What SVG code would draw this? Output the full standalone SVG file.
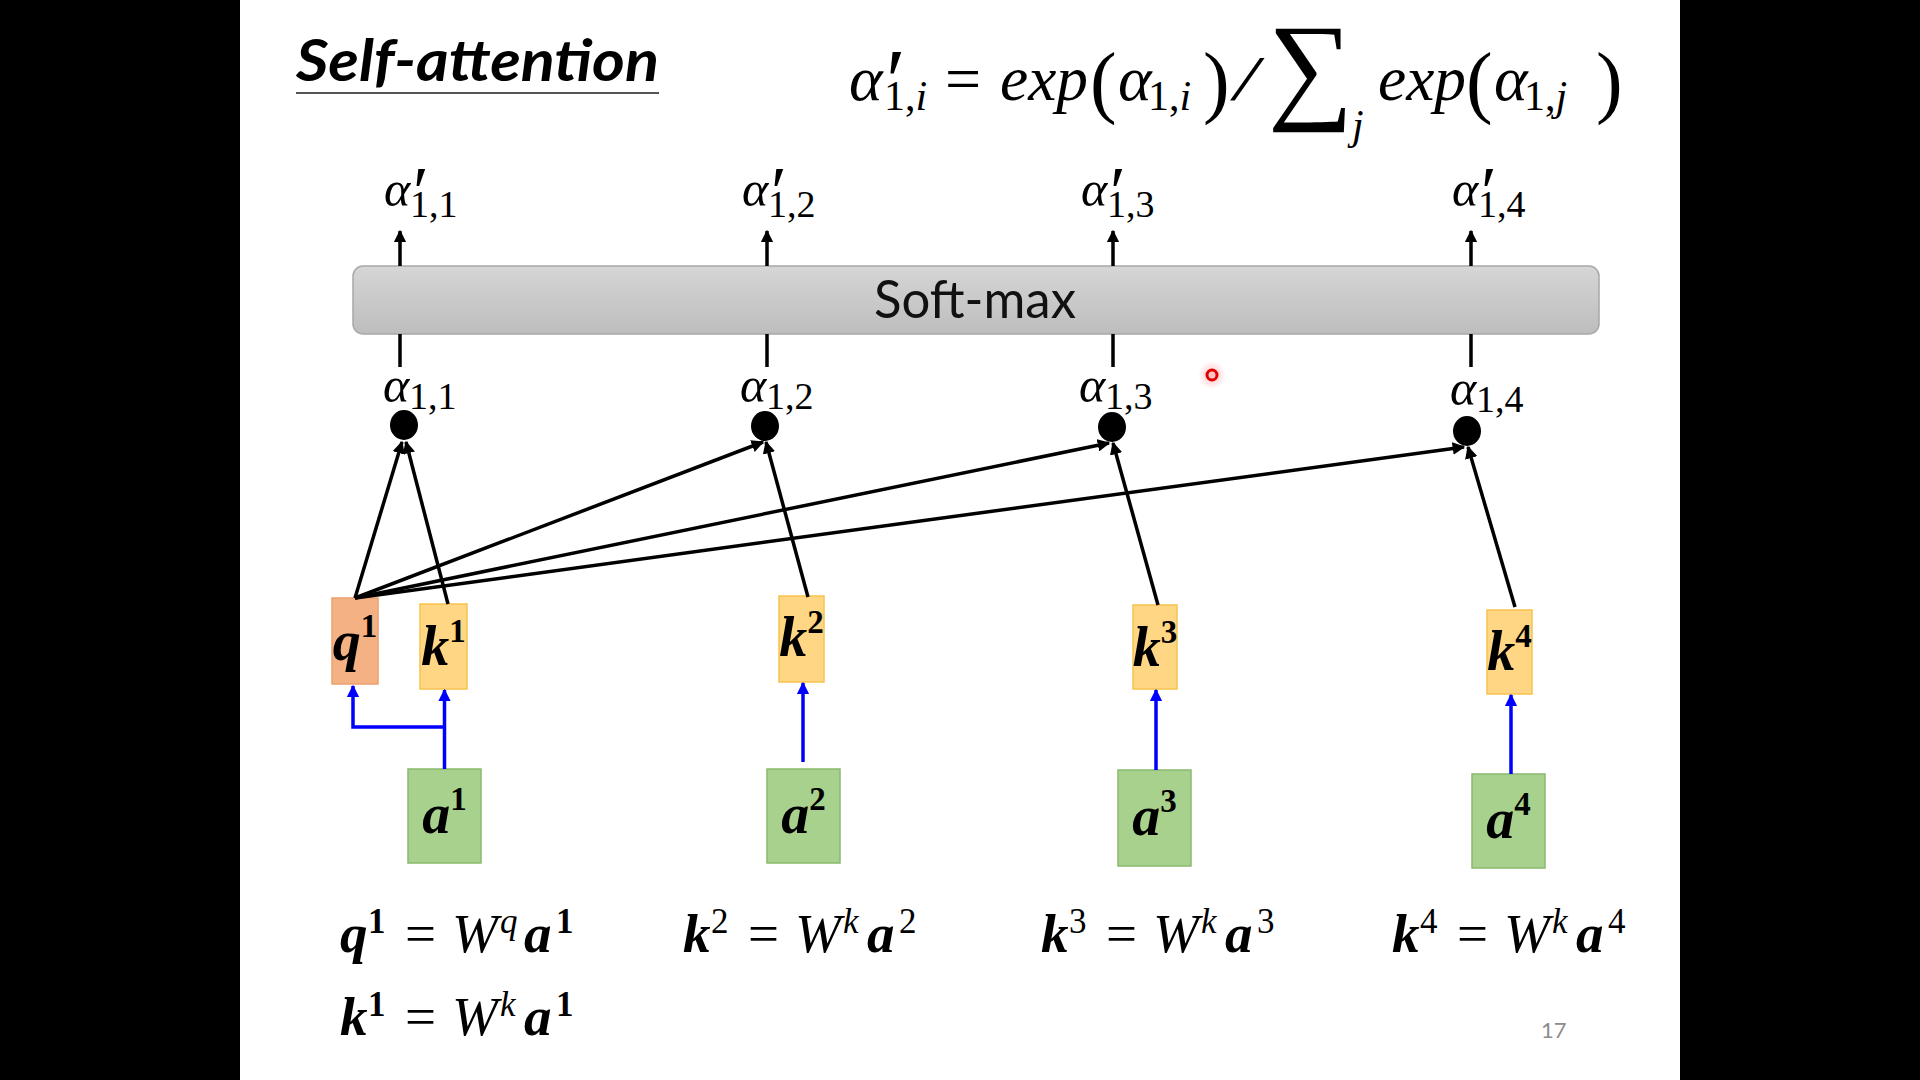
<svg xmlns="http://www.w3.org/2000/svg" width="1920" height="1080" viewBox="0 0 1920 1080">
<defs>
<style>
.m{font-family:"Liberation Serif","DejaVu Serif",serif;font-style:italic;fill:#000}
.bi{font-family:"Liberation Serif","DejaVu Serif",serif;font-style:italic;font-weight:bold;fill:#000}
.up{font-family:"Liberation Serif","DejaVu Serif",serif;font-style:normal;fill:#000}
.ub{font-family:"Liberation Serif","DejaVu Serif",serif;font-style:normal;font-weight:bold;fill:#000}
.lbl{font-size:56px;text-anchor:middle}
.eq{font-size:55px}
.sup{font-size:35px}
.al{font-size:50px}
.sub{font-size:38px}
.pr{font-size:72px}
.blk{stroke:#000;stroke-width:3.5;fill:none}
.blu{stroke:#0000ff;stroke-width:3.5;fill:none}
.qbox{fill:#f4b183;stroke:#eda070;stroke-width:1.5}
.kbox{fill:#ffd683;stroke:#f7c24e;stroke-width:1.5}
.abox{fill:#a9d18e;stroke:#8ab96d;stroke-width:1.5}
.dot{fill:#000}
</style>
<linearGradient id="gbar" x1="0" y1="0" x2="0" y2="1">
<stop offset="0" stop-color="#d6d6d6"/>
<stop offset="1" stop-color="#bdbdbd"/>
</linearGradient>
<radialGradient id="glow">
<stop offset="0" stop-color="#ff4040" stop-opacity="0.35"/>
<stop offset="1" stop-color="#ff4040" stop-opacity="0"/>
</radialGradient>
<marker id="ab" viewBox="0 0 10 10" refX="9" refY="5" markerWidth="3.6" markerHeight="3.6" orient="auto" markerUnits="strokeWidth">
<path d="M0,0 L10,5 L0,10 z" fill="#000"/>
</marker>
<marker id="au" viewBox="0 0 10 10" refX="9" refY="5" markerWidth="3.5" markerHeight="3.5" orient="auto" markerUnits="strokeWidth">
<path d="M0,0 L10,5 L0,10 z" fill="#0000ff"/>
</marker>
</defs>

<rect x="0" y="0" width="1920" height="1080" fill="#000"/>
<rect x="240" y="0" width="1440" height="1080" fill="#fff"/>

<g id="title">
<text x="296" y="81" font-family="Lato,'Liberation Sans',sans-serif" font-weight="bold" font-style="italic" font-size="58" textLength="363" lengthAdjust="spacingAndGlyphs">Self-attention</text>
<line x1="296" y1="93" x2="659" y2="93" stroke="#555" stroke-width="2"/>
</g>

<g id="formula">
<text class="m" font-size="64" x="849" y="100">α</text>
<text class="up" font-size="90" x="886" y="112">′</text>
<text class="up" font-size="42" x="884" y="110">1,<tspan class="m">i</tspan></text>
<text class="up" font-size="64" x="945" y="100">=</text>
<text class="m" font-size="64" x="1000" y="100" textLength="88" lengthAdjust="spacingAndGlyphs">exp</text>
<text class="up" font-size="80" x="1090" y="108">(</text>
<text class="m" font-size="64" x="1118" y="100">α</text>
<text class="up" font-size="42" x="1148" y="110">1,<tspan class="m">i</tspan></text>
<text class="up" font-size="80" x="1203" y="108">)</text>
<text class="m" font-size="64" x="1234" y="100" textLength="24" lengthAdjust="spacingAndGlyphs">/</text>
<text class="up" font-size="120" x="1268" y="107">∑</text>
<text class="m" font-size="42" x="1352" y="139">j</text>
<text class="m" font-size="64" x="1378" y="100" textLength="88" lengthAdjust="spacingAndGlyphs">exp</text>
<text class="up" font-size="80" x="1466" y="108">(</text>
<text class="m" font-size="64" x="1494" y="100">α</text>
<text class="up" font-size="42" x="1524" y="110">1,<tspan class="m">j</tspan></text>
<text class="up" font-size="80" x="1596" y="108">)</text>
</g>

<g id="softmax">
<rect x="353" y="266" width="1246" height="68" rx="10" fill="url(#gbar)" stroke="#a8a8a8" stroke-width="1.5"/>
<text x="975" y="318" font-family="Lato,'Liberation Sans',sans-serif" font-size="52" text-anchor="middle" textLength="202" lengthAdjust="spacingAndGlyphs" fill="#111">Soft-max</text>
</g>

<g id="out-labels">
<g id="ap11"><text class="m al" x="384" y="206">α</text><text class="up pr" x="413" y="216">′</text><text class="up sub" x="410" y="217">1,1</text></g>
<g id="ap12"><text class="m al" x="742" y="206">α</text><text class="up pr" x="771" y="216">′</text><text class="up sub" x="768" y="217">1,2</text></g>
<g id="ap13"><text class="m al" x="1081" y="206">α</text><text class="up pr" x="1110" y="216">′</text><text class="up sub" x="1107" y="217">1,3</text></g>
<g id="ap14"><text class="m al" x="1452" y="206">α</text><text class="up pr" x="1481" y="216">′</text><text class="up sub" x="1478" y="217">1,4</text></g>
</g>

<g id="alpha-labels">
<g id="a11"><text class="m al" x="383" y="402">α</text><text class="up sub" x="409" y="409">1,1</text></g>
<g id="a12"><text class="m al" x="740" y="402">α</text><text class="up sub" x="766" y="409">1,2</text></g>
<g id="a13"><text class="m al" x="1079" y="402">α</text><text class="up sub" x="1105" y="409">1,3</text></g>
<g id="a14"><text class="m al" x="1450" y="405">α</text><text class="up sub" x="1476" y="412">1,4</text></g>
</g>

<g id="dots">
<ellipse id="dot1" class="dot" cx="404" cy="425" rx="14" ry="15"/>
<ellipse id="dot2" class="dot" cx="765" cy="426" rx="14" ry="15"/>
<ellipse id="dot3" class="dot" cx="1112" cy="427" rx="14" ry="15"/>
<ellipse id="dot4" class="dot" cx="1467" cy="431" rx="14" ry="15"/>
</g>

<g id="q1"><rect class="qbox" x="332" y="598" width="46" height="86"/><text class="bi lbl" x="355" y="660">q<tspan class="ub" font-size="33" dy="-23">1</tspan></text></g>
<g id="k1"><rect class="kbox" x="420" y="604" width="47" height="85"/><text class="bi lbl" x="443.5" y="665">k<tspan class="ub" font-size="33" dy="-23">1</tspan></text></g>
<g id="k2"><rect class="kbox" x="779" y="596" width="45" height="86"/><text class="bi lbl" x="801.5" y="656">k<tspan class="up" font-size="33" dy="-23">2</tspan></text></g>
<g id="k3"><rect class="kbox" x="1133" y="605" width="44" height="84"/><text class="bi lbl" x="1155" y="666">k<tspan class="up" font-size="33" dy="-23">3</tspan></text></g>
<g id="k4"><rect class="kbox" x="1487" y="610" width="45" height="84"/><text class="bi lbl" x="1509.5" y="670">k<tspan class="up" font-size="33" dy="-23">4</tspan></text></g>

<g id="a1"><rect class="abox" x="408" y="769" width="73" height="94"/><text class="bi lbl" x="444.5" y="833">a<tspan class="ub" font-size="33" dy="-23">1</tspan></text></g>
<g id="a2"><rect class="abox" x="767" y="769" width="73" height="94"/><text class="bi lbl" x="803.5" y="833">a<tspan class="up" font-size="33" dy="-23">2</tspan></text></g>
<g id="a3"><rect class="abox" x="1118" y="770" width="73" height="96"/><text class="bi lbl" x="1154.5" y="835">a<tspan class="up" font-size="33" dy="-23">3</tspan></text></g>
<g id="a4"><rect class="abox" x="1472" y="774" width="73" height="94"/><text class="bi lbl" x="1508.5" y="838">a<tspan class="up" font-size="33" dy="-23">4</tspan></text></g>

<g id="connectors">
<line class="blk" x1="400" y1="266" x2="400" y2="231" marker-end="url(#ab)"/>
<line class="blk" x1="767" y1="266" x2="767" y2="231" marker-end="url(#ab)"/>
<line class="blk" x1="1113" y1="266" x2="1113" y2="231" marker-end="url(#ab)"/>
<line class="blk" x1="1471" y1="266" x2="1471" y2="231" marker-end="url(#ab)"/>
<line class="blk" x1="400" y1="334" x2="400" y2="367"/>
<line class="blk" x1="767" y1="334" x2="767" y2="367"/>
<line class="blk" x1="1113" y1="334" x2="1113" y2="367"/>
<line class="blk" x1="1471" y1="334" x2="1471" y2="367"/>
<line class="blk" x1="355" y1="598" x2="402" y2="442" marker-end="url(#ab)"/>
<line class="blk" x1="448" y1="604" x2="406" y2="442" marker-end="url(#ab)"/>
<line class="blk" x1="355" y1="598" x2="763" y2="442" marker-end="url(#ab)"/>
<line class="blk" x1="808" y1="597" x2="766" y2="442" marker-end="url(#ab)"/>
<line class="blk" x1="355" y1="598" x2="1109" y2="443" marker-end="url(#ab)"/>
<line class="blk" x1="1158" y1="605" x2="1113" y2="443" marker-end="url(#ab)"/>
<line class="blk" x1="355" y1="598" x2="1464" y2="447" marker-end="url(#ab)"/>
<line class="blk" x1="1515" y1="607" x2="1468" y2="447" marker-end="url(#ab)"/>
<line class="blu" x1="444.5" y1="769" x2="444.5" y2="690" marker-end="url(#au)"/>
<polyline class="blu" points="444.5,727 353,727 353,686" marker-end="url(#au)"/>
<line class="blu" x1="803" y1="762" x2="803" y2="683" marker-end="url(#au)"/>
<line class="blu" x1="1156" y1="770" x2="1156" y2="690" marker-end="url(#au)"/>
<line class="blu" x1="1511" y1="774" x2="1511" y2="695" marker-end="url(#au)"/>
</g>

<g id="equations">
<text class="eq"><tspan class="bi" x="340" y="952">q</tspan><tspan class="ub sup" x="368" y="933">1</tspan><tspan class="up" x="405" y="952">=</tspan><tspan class="m" x="452" y="952">W</tspan><tspan class="m sup" x="500" y="933">q</tspan><tspan class="bi" x="524" y="952">a</tspan><tspan class="ub sup" x="556" y="933">1</tspan></text>
<text class="eq"><tspan class="bi" x="340" y="1035">k</tspan><tspan class="ub sup" x="368" y="1016">1</tspan><tspan class="up" x="405" y="1035">=</tspan><tspan class="m" x="452" y="1035">W</tspan><tspan class="m sup" x="500" y="1016">k</tspan><tspan class="bi" x="524" y="1035">a</tspan><tspan class="ub sup" x="556" y="1016">1</tspan></text>
<text class="eq"><tspan class="bi" x="683" y="952">k</tspan><tspan class="up sup" x="711" y="933">2</tspan><tspan class="up" x="748" y="952">=</tspan><tspan class="m" x="795" y="952">W</tspan><tspan class="m sup" x="843" y="933">k</tspan><tspan class="bi" x="867" y="952">a</tspan><tspan class="up sup" x="899" y="933">2</tspan></text>
<text class="eq"><tspan class="bi" x="1041" y="952">k</tspan><tspan class="up sup" x="1069" y="933">3</tspan><tspan class="up" x="1106" y="952">=</tspan><tspan class="m" x="1153" y="952">W</tspan><tspan class="m sup" x="1201" y="933">k</tspan><tspan class="bi" x="1225" y="952">a</tspan><tspan class="up sup" x="1257" y="933">3</tspan></text>
<text class="eq"><tspan class="bi" x="1392" y="952">k</tspan><tspan class="up sup" x="1420" y="933">4</tspan><tspan class="up" x="1457" y="952">=</tspan><tspan class="m" x="1504" y="952">W</tspan><tspan class="m sup" x="1552" y="933">k</tspan><tspan class="bi" x="1576" y="952">a</tspan><tspan class="up sup" x="1608" y="933">4</tspan></text>
</g>

<g id="pointer">
<circle cx="1212" cy="375" r="14" fill="url(#glow)"/>
<circle cx="1212" cy="375" r="5" fill="none" stroke="#e00000" stroke-width="3"/>
</g>

<text id="pagenum" x="1541" y="1038" font-family="Lato,'Liberation Sans',sans-serif" font-size="22" fill="#8c8c8c">17</text>
</svg>
